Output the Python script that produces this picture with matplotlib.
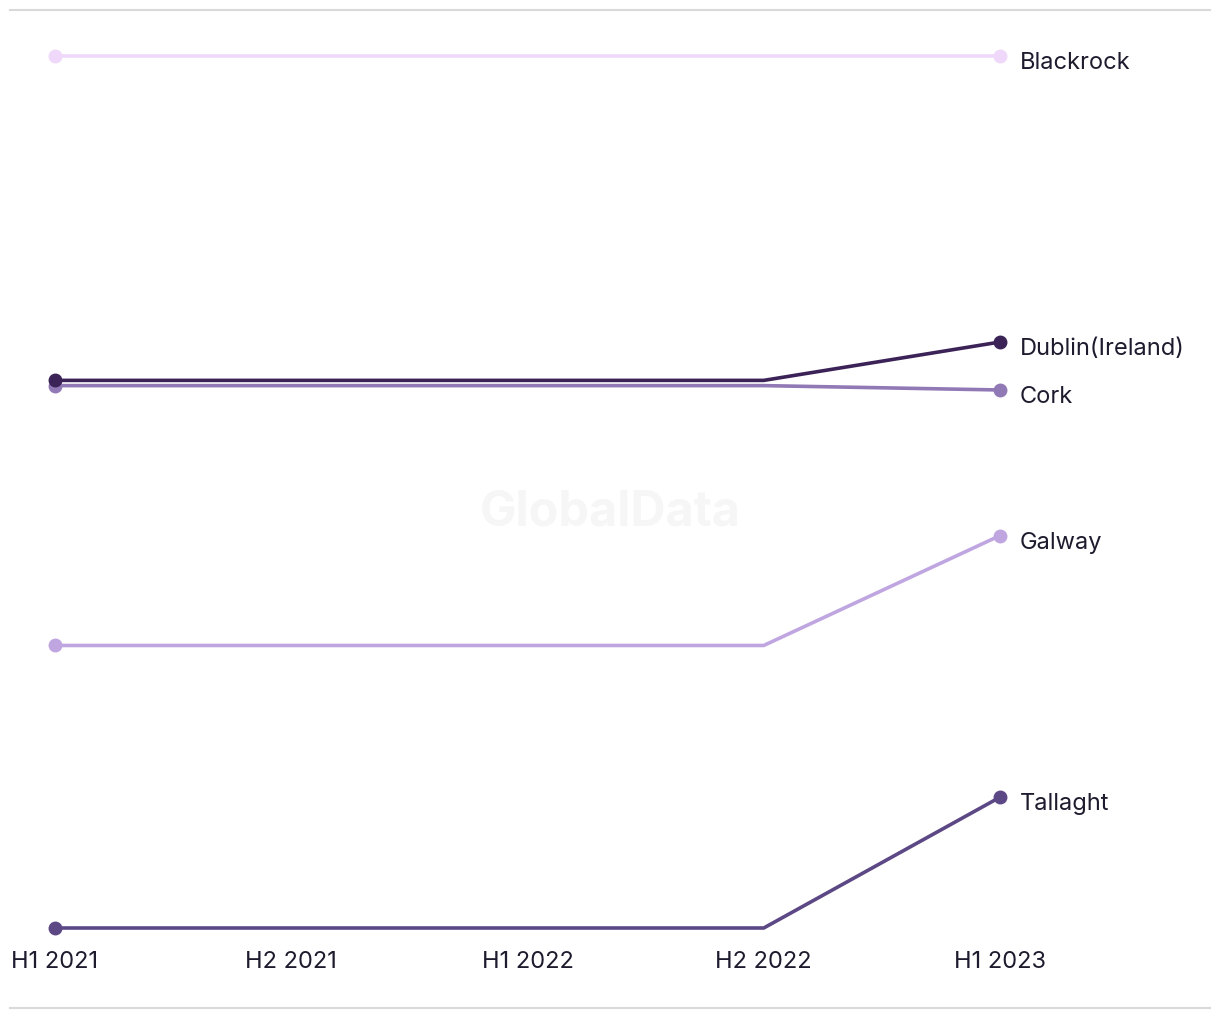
import matplotlib
matplotlib.use('Agg')
import matplotlib.pyplot as plt
from matplotlib.lines import Line2D

plt.rcParams['font.family'] = ['Inter', 'DejaVu Sans']

periods = ['H1 2021', 'H2 2021', 'H1 2022', 'H2 2022', 'H1 2023']

# draw order: lighter / lower lines first, Dublin on top
names = ['Blackrock', 'Cork', 'Dublin(Ireland)', 'Galway', 'Tallaght']
blackrock = [100.0, 100.0, 100.0, 100.0, 100.0]
cork = [62.2, 62.2, 62.2, 62.2, 61.7]
dublin = [62.8, 62.8, 62.8, 62.8, 67.2]
galway = [32.4, 32.4, 32.4, 32.4, 45.0]
tallaght = [0.0, 0.0, 0.0, 0.0, 15.0]
series = [blackrock, cork, dublin, galway, tallaght]
colors = ['#f0d8fa', '#9179b5', '#3b2358', '#c0a6e1', '#5d4886']

fig = plt.figure(figsize=(12.2, 10.2), dpi=100)
ax = fig.add_axes([55 / 1220, 91 / 1020, 945 / 1220, 872 / 1020])

x = list(range(len(periods)))
for name, vals, c in zip(names, series, colors):
    ax.plot(x, vals, color=c, lw=2.6, solid_capstyle='round', clip_on=False, zorder=3)
    ax.plot([x[0], x[-1]], [vals[0], vals[-1]], 'o', color=c, ms=9,
            clip_on=False, zorder=4)
    ax.annotate(name, (x[-1], vals[-1]), xytext=(20, -6), textcoords='offset pixels',
                va='center', ha='left', fontsize=17, color='#1e1b2e')

ax.set_xlim(0, 4)
ax.set_ylim(0, 100)
ax.set_xticks(x)
ax.set_xticklabels(periods, fontsize=17, color='#1e1b2e')
ax.tick_params(axis='x', length=0, pad=15.5)
ax.set_yticks([])
for s in ax.spines.values():
    s.set_visible(False)

# watermark
fig.text(610 / 1220, 1 - 512 / 1020, 'GlobalData', ha='center', va='center',
         fontsize=35, fontweight='bold', color='#f6f6f6', zorder=0)

# top / bottom rules
for yy in [11, 1009]:
    fig.add_artist(Line2D([10 / 1220, 1210 / 1220], [1 - yy / 1020, 1 - yy / 1020],
                          color='#d9d9d9', lw=1.5))

plt.savefig('out.png', dpi=100)
plt.close()
